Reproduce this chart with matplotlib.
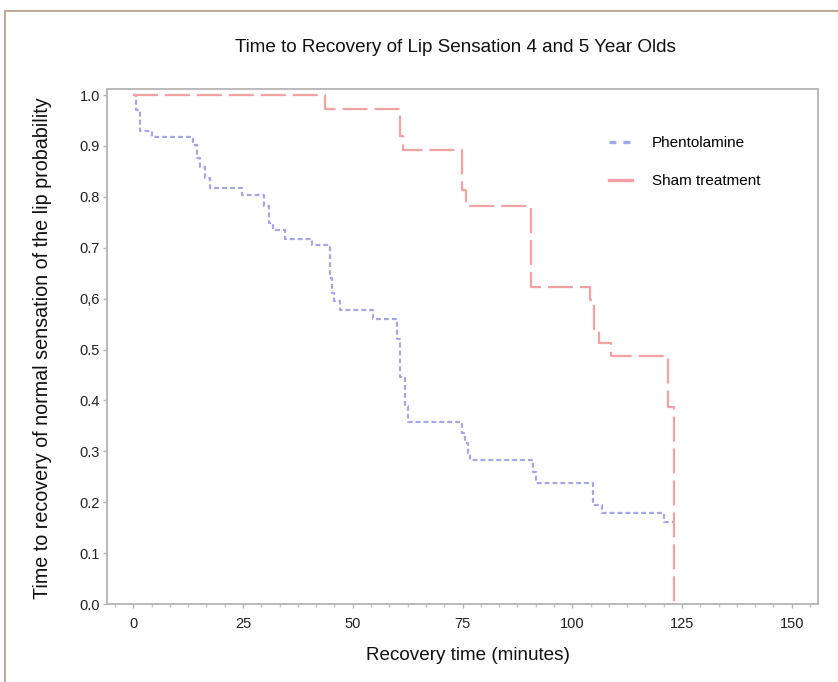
import matplotlib
matplotlib.use("Agg")
import matplotlib.pyplot as plt
from matplotlib.lines import Line2D
from matplotlib.ticker import MultipleLocator

plt.rcParams['font.family'] = ['Liberation Sans', 'DejaVu Sans']
plt.rcParams['lines.scale_dashes'] = False

# Kaplan-Meier style step data (time in minutes, survival probability)
phen_t = [0, 0.5, 1.5, 4.3, 13.7, 14.6, 15.3, 16.4, 17.5, 24.8, 29.7, 30.9, 31.9, 34.6,
          40.8, 44.8, 45.3, 45.8, 47.0, 54.7, 60.0, 60.8, 62.0, 62.6, 74.9, 75.5, 76.2,
          76.7, 91.0, 91.8, 104.7, 106.7, 121.0, 123.0]
phen_p = [1.0, 0.97, 0.93, 0.917, 0.901, 0.876, 0.858, 0.838, 0.818, 0.803, 0.783, 0.748,
          0.734, 0.718, 0.705, 0.64, 0.612, 0.595, 0.577, 0.561, 0.52, 0.446, 0.39, 0.358,
          0.336, 0.316, 0.296, 0.283, 0.26, 0.237, 0.195, 0.179, 0.161, 0.161]

sham_t = [0, 43.7, 60.8, 61.5, 74.9, 75.7, 90.5, 104.0, 105.0, 106.0, 108.8, 121.8, 123.2]
sham_p = [1.0, 0.973, 0.92, 0.893, 0.813, 0.783, 0.622, 0.597, 0.541, 0.513, 0.487, 0.387, 0.0]

y_ticks = [0.0, 0.1, 0.2, 0.3, 0.4, 0.5, 0.6, 0.7, 0.8, 0.9, 1.0]
y_tick_labels = ['0.0', '0.1', '0.2', '0.3', '0.4', '0.5', '0,6', '0.7', '0.8', '0.9', '1.0']
x_ticks = [0, 25, 50, 75, 100, 125, 150]

title = "Time to Recovery of Lip Sensation 4 and 5 Year Olds"
xlabel = "Recovery time (minutes)"
ylabel = "Time to recovery of normal sensation of the lip probability"
series_names = ["Phentolamine", "Sham treatment"]

W, H = 838, 682
fig = plt.figure(figsize=(W / 100, H / 100), dpi=100)
fig.patch.set_facecolor('white')

ax = fig.add_axes([107 / W, 1 - 604 / H, (818 - 107) / W, (604 - 89) / H])

blue = '#a6a6e6'
red = '#f2a2a2'

ax.plot(phen_t, phen_p, drawstyle='steps-post', color=blue, lw=1.6,
        dashes=(3.5, 2.2), label=series_names[0])
ax.plot(sham_t, sham_p, drawstyle='steps-post', color=red, lw=1.6,
        dashes=(18, 5), label=series_names[1])

ax.set_xlim(-6, 156)
ax.set_ylim(0.0, 1.012)
ax.set_xticks(x_ticks)
ax.xaxis.set_minor_locator(MultipleLocator(25 / 6))
ax.set_yticks(y_ticks)
ax.set_yticklabels(y_tick_labels)

for s in ax.spines.values():
    s.set_color('#b4b4b4')
    s.set_linewidth(1.3)

ax.tick_params(axis='both', which='major', length=3, width=1, color='#b4b4b4',
               labelsize=10.5, labelcolor='#222222')
ax.tick_params(axis='x', which='major', pad=6)
ax.tick_params(axis='y', which='major', pad=2)
ax.tick_params(axis='x', which='minor', length=2, width=1, color='#c4c4c4')

fig.text(468 / W, 1 - 655 / H, xlabel, fontsize=13.6, color='#111111',
         ha='center', va='center')
fig.text(43 / W, 1 - 348 / H, ylabel, rotation=90, fontsize=14.2, color='#111111',
         ha='center', va='center')
fig.text(455 / W, 1 - 47 / H, title, fontsize=13.6, color='#111111', ha='center', va='center')

leg_handles = [Line2D([0], [0], color=blue, lw=2.4, dashes=(5, 5)),
               Line2D([0], [0], color=red, lw=2.4)]
ax.legend(leg_handles, series_names, loc='upper left', bbox_to_anchor=(0.687, 0.935),
          frameon=False, fontsize=11, handlelength=1.5, handletextpad=1.3,
          labelspacing=1.55)

# partial frame around image (top & left)
border = '#b5a48e'
fig.add_artist(Line2D([5 / W, 1.0], [1 - 11 / H, 1 - 11 / H], color=border, lw=1.3,
                      transform=fig.transFigure))
fig.add_artist(Line2D([5 / W, 5 / W], [0, 1 - 11 / H], color=border, lw=1.3,
                      transform=fig.transFigure))

fig.savefig('out.png', dpi=100, facecolor='white')
